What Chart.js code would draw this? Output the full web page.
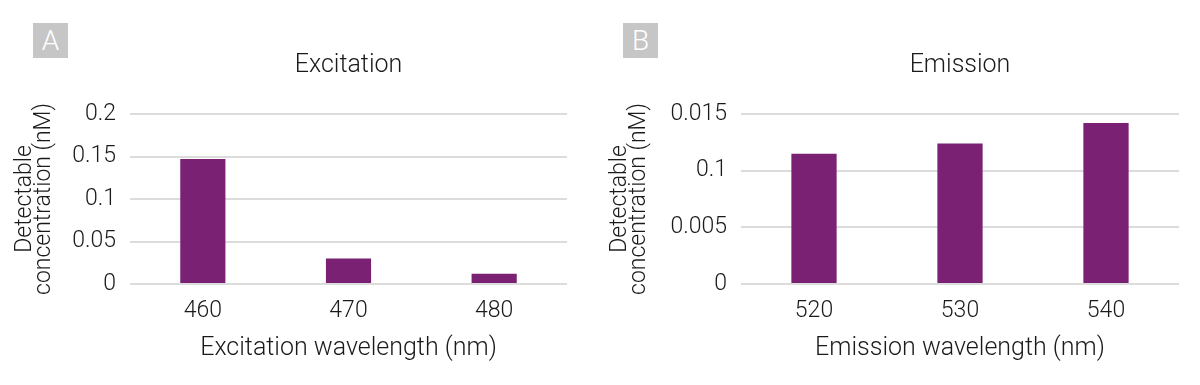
<!DOCTYPE html>
<html>
<head>
<meta charset="utf-8">
<script src="https://cdn.jsdelivr.net/npm/chart.js@4/dist/chart.umd.min.js"></script>
<style>
  html, body { margin: 0; padding: 0; background: #ffffff; }
  #wrap { position: relative; width: 1200px; height: 385px; overflow: hidden; }
  .panel { position: absolute; top: 0; width: 600px; height: 385px; }
  .badge { position: absolute; top: 23px; width: 35px; height: 35px; background: #c6c6c6;
           color: #ffffff; font-family: Roboto, sans-serif; font-weight: 300; font-size: 28px;
           line-height: 35px; text-align: center; z-index: 2; }
</style>
</head>
<body>
<div id="wrap">
  <div class="panel" style="left:0"><canvas id="cA" width="600" height="385"></canvas></div>
  <div class="panel" style="left:600px"><canvas id="cB" width="600" height="385"></canvas></div>
  <div class="badge" style="left:33px">A</div>
  <div class="badge" style="left:623px">B</div>
</div>
<script>
// ---- data ----
const categoriesA = ['460', '470', '480'];
const valuesA = [0.147, 0.030, 0.012];
const yTicksA = ['0', '0.05', '0.1', '0.15', '0.2'];
const titleA = 'Excitation';
const xTitleA = 'Excitation wavelength (nm)';

const categoriesB = ['520', '530', '540'];
const valuesB = [0.0115, 0.0124, 0.0142];
const yTicksB = ['0', '0.005', '0.1', '0.015'];
const titleB = 'Emission';
const xTitleB = 'Emission wavelength (nm)';

const yTitle = ['Detectable', 'concentration (nM)'];

// ---- styling ----
Chart.defaults.font.family = 'Roboto, "Open Sans", sans-serif';
Chart.defaults.font.weight = 300;
Chart.defaults.color = '#1e1e1e';

const BAR = '#7b2174';
const GRID = '#dcdcdc';
const TXT = '#1a1a1a';

function makeChart(id, cats, vals, yLabels, yMax, yStep, title, xTitle, yWidth, rightPad, yTitlePad) {
  return new Chart(document.getElementById(id), {
    type: 'bar',
    data: {
      labels: cats,
      datasets: [{
        data: vals,
        xAxisID: 'x',
        yAxisID: 'y',
        backgroundColor: BAR,
        borderWidth: 0,
        categoryPercentage: 1,
        barPercentage: 0.31
      }]
    },
    options: {
      responsive: false,
      animation: false,
      events: [],
      layout: { padding: { left: 0, right: rightPad, top: 0, bottom: 0 } },
      plugins: { legend: { display: false }, tooltip: { enabled: false }, title: { display: false } },
      scales: {
        x: {
          type: 'category',
          position: 'bottom',
          grid: { display: false, drawTicks: false },
          border: { display: false },
          ticks: { font: { size: 23, weight: 300 }, padding: 13, color: TXT },
          title: { display: true, text: xTitle, font: { size: 25, weight: 300 }, color: TXT,
                   padding: { top: 0, bottom: 21 } },
          afterFit: (s) => { s.height = 101; }
        },
        x2: {
          type: 'category',
          position: 'top',
          grid: { display: false, drawTicks: false },
          border: { display: false },
          ticks: { display: false },
          title: { display: true, text: title, font: { size: 25, weight: 300 }, color: TXT,
                   padding: { top: 51, bottom: 0 } },
          afterFit: (s) => { s.height = 114; }
        },
        y: {
          type: 'linear',
          position: 'left',
          min: 0,
          max: yMax,
          grid: { color: GRID, lineWidth: 2, drawTicks: false },
          border: { display: false },
          ticks: {
            stepSize: yStep,
            padding: 14,
            font: { size: 23, weight: 300 },
            color: TXT,
            callback: (v, i) => yLabels[i]
          },
          title: { display: true, text: yTitle, font: { size: 23, weight: 300, lineHeight: 0.85 },
                   color: TXT, padding: { top: yTitlePad, bottom: 0 } },
          afterFit: (s) => { s.width = yWidth; }
        }
      }
    }
  });
}

makeChart('cA', categoriesA, valuesA, yTicksA, 0.2, 0.05, titleA, xTitleA, 130, 33, 15);
makeChart('cB', categoriesB, valuesB, yTicksB, 0.015, 0.005, titleB, xTitleB, 141, 21, 10);
</script>
</body>
</html>
